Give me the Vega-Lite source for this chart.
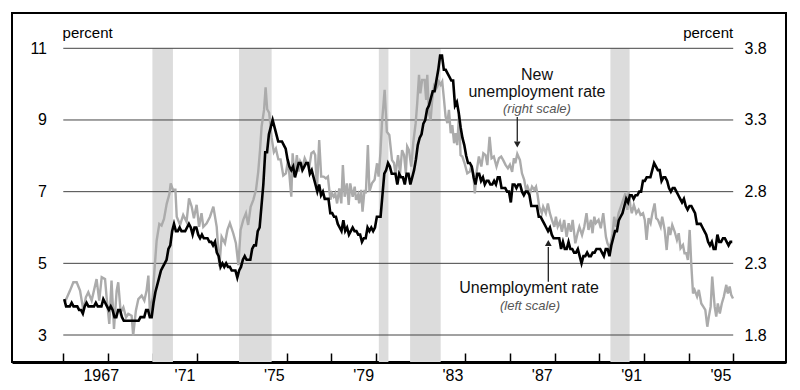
{
"$schema": "https://vega.github.io/schema/vega-lite/v6.json",
"width": 774, "height": 349,
"autosize": {"type": "none"},
"padding": {"left": 12, "top": 13, "right": 14, "bottom": 28},
"background": "white",
"config": {"view": {"stroke": "black", "strokeWidth": 2}, "font": "Liberation Sans"},
"datasets": {
"rec": [{"s":1969.99,"e":1970.91},{"s":1973.87,"e":1975.33},{"s":1980.13,"e":1980.56},{"s":1981.53,"e":1982.90},{"s":1990.5,"e":1991.36}],
"grid": [{"g":3},{"g":5},{"g":7},{"g":9},{"g":11}],
"yearlabels": [{"x":1967.7,"t":"1967"},{"x":1971.45,"t":"'71"},{"x":1975.45,"t":"'75"},{"x":1979.45,"t":"'79"},{"x":1983.45,"t":"'83"},{"x":1987.45,"t":"'87"},{"x":1991.45,"t":"'91"},{"x":1995.45,"t":"'95"}],
"unemp": [
{"d":1966.042,"u":4.0},{"d":1966.125,"u":3.8},{"d":1966.208,"u":3.8},{"d":1966.292,"u":3.8},{"d":1966.375,"u":3.9},{"d":1966.458,"u":3.8},{"d":1966.542,"u":3.8},{"d":1966.625,"u":3.8},{"d":1966.708,"u":3.7},{"d":1966.792,"u":3.7},{"d":1966.875,"u":3.6},{"d":1966.958,"u":3.8},
{"d":1967.042,"u":3.9},{"d":1967.125,"u":3.8},{"d":1967.208,"u":3.8},{"d":1967.292,"u":3.8},{"d":1967.375,"u":3.8},{"d":1967.458,"u":3.9},{"d":1967.542,"u":3.8},{"d":1967.625,"u":3.8},{"d":1967.708,"u":3.8},{"d":1967.792,"u":4.0},{"d":1967.875,"u":3.9},{"d":1967.958,"u":3.8},
{"d":1968.042,"u":3.7},{"d":1968.125,"u":3.8},{"d":1968.208,"u":3.7},{"d":1968.292,"u":3.5},{"d":1968.375,"u":3.5},{"d":1968.458,"u":3.7},{"d":1968.542,"u":3.7},{"d":1968.625,"u":3.5},{"d":1968.708,"u":3.4},{"d":1968.792,"u":3.4},{"d":1968.875,"u":3.4},{"d":1968.958,"u":3.4},
{"d":1969.042,"u":3.4},{"d":1969.125,"u":3.4},{"d":1969.208,"u":3.4},{"d":1969.292,"u":3.4},{"d":1969.375,"u":3.4},{"d":1969.458,"u":3.5},{"d":1969.542,"u":3.5},{"d":1969.625,"u":3.5},{"d":1969.708,"u":3.7},{"d":1969.792,"u":3.7},{"d":1969.875,"u":3.5},{"d":1969.958,"u":3.5},
{"d":1970.042,"u":3.9},{"d":1970.125,"u":4.2},{"d":1970.208,"u":4.4},{"d":1970.292,"u":4.6},{"d":1970.375,"u":4.8},{"d":1970.458,"u":4.9},{"d":1970.542,"u":5.0},{"d":1970.625,"u":5.1},{"d":1970.708,"u":5.4},{"d":1970.792,"u":5.5},{"d":1970.875,"u":5.9},{"d":1970.958,"u":6.1},
{"d":1971.042,"u":5.9},{"d":1971.125,"u":5.9},{"d":1971.208,"u":6.0},{"d":1971.292,"u":5.9},{"d":1971.375,"u":5.9},{"d":1971.458,"u":5.9},{"d":1971.542,"u":6.0},{"d":1971.625,"u":6.1},{"d":1971.708,"u":6.0},{"d":1971.792,"u":5.8},{"d":1971.875,"u":6.0},{"d":1971.958,"u":6.0},
{"d":1972.042,"u":5.8},{"d":1972.125,"u":5.7},{"d":1972.208,"u":5.8},{"d":1972.292,"u":5.7},{"d":1972.375,"u":5.7},{"d":1972.458,"u":5.7},{"d":1972.542,"u":5.6},{"d":1972.625,"u":5.6},{"d":1972.708,"u":5.5},{"d":1972.792,"u":5.6},{"d":1972.875,"u":5.3},{"d":1972.958,"u":5.2},
{"d":1973.042,"u":4.9},{"d":1973.125,"u":5.0},{"d":1973.208,"u":4.9},{"d":1973.292,"u":5.0},{"d":1973.375,"u":4.9},{"d":1973.458,"u":4.9},{"d":1973.542,"u":4.8},{"d":1973.625,"u":4.8},{"d":1973.708,"u":4.8},{"d":1973.792,"u":4.6},{"d":1973.875,"u":4.8},{"d":1973.958,"u":4.9},
{"d":1974.042,"u":5.1},{"d":1974.125,"u":5.2},{"d":1974.208,"u":5.1},{"d":1974.292,"u":5.1},{"d":1974.375,"u":5.1},{"d":1974.458,"u":5.4},{"d":1974.542,"u":5.5},{"d":1974.625,"u":5.5},{"d":1974.708,"u":5.9},{"d":1974.792,"u":6.0},{"d":1974.875,"u":6.6},{"d":1974.958,"u":7.2},
{"d":1975.042,"u":8.1},{"d":1975.125,"u":8.1},{"d":1975.208,"u":8.6},{"d":1975.292,"u":8.8},{"d":1975.375,"u":9.0},{"d":1975.458,"u":8.8},{"d":1975.542,"u":8.6},{"d":1975.625,"u":8.4},{"d":1975.708,"u":8.4},{"d":1975.792,"u":8.4},{"d":1975.875,"u":8.3},{"d":1975.958,"u":8.2},
{"d":1976.042,"u":7.9},{"d":1976.125,"u":7.7},{"d":1976.208,"u":7.6},{"d":1976.292,"u":7.7},{"d":1976.375,"u":7.4},{"d":1976.458,"u":7.6},{"d":1976.542,"u":7.8},{"d":1976.625,"u":7.8},{"d":1976.708,"u":7.6},{"d":1976.792,"u":7.7},{"d":1976.875,"u":7.8},{"d":1976.958,"u":7.8},
{"d":1977.042,"u":7.5},{"d":1977.125,"u":7.6},{"d":1977.208,"u":7.4},{"d":1977.292,"u":7.2},{"d":1977.375,"u":7.0},{"d":1977.458,"u":7.2},{"d":1977.542,"u":6.9},{"d":1977.625,"u":7.0},{"d":1977.708,"u":6.8},{"d":1977.792,"u":6.8},{"d":1977.875,"u":6.8},{"d":1977.958,"u":6.4},
{"d":1978.042,"u":6.4},{"d":1978.125,"u":6.3},{"d":1978.208,"u":6.3},{"d":1978.292,"u":6.1},{"d":1978.375,"u":6.0},{"d":1978.458,"u":5.9},{"d":1978.542,"u":6.2},{"d":1978.625,"u":5.9},{"d":1978.708,"u":6.0},{"d":1978.792,"u":5.8},{"d":1978.875,"u":5.9},{"d":1978.958,"u":6.0},
{"d":1979.042,"u":5.9},{"d":1979.125,"u":5.9},{"d":1979.208,"u":5.8},{"d":1979.292,"u":5.8},{"d":1979.375,"u":5.6},{"d":1979.458,"u":5.7},{"d":1979.542,"u":5.7},{"d":1979.625,"u":6.0},{"d":1979.708,"u":5.9},{"d":1979.792,"u":6.0},{"d":1979.875,"u":5.9},{"d":1979.958,"u":6.0},
{"d":1980.042,"u":6.3},{"d":1980.125,"u":6.3},{"d":1980.208,"u":6.3},{"d":1980.292,"u":6.9},{"d":1980.375,"u":7.5},{"d":1980.458,"u":7.6},{"d":1980.542,"u":7.8},{"d":1980.625,"u":7.7},{"d":1980.708,"u":7.5},{"d":1980.792,"u":7.5},{"d":1980.875,"u":7.5},{"d":1980.958,"u":7.2},
{"d":1981.042,"u":7.5},{"d":1981.125,"u":7.4},{"d":1981.208,"u":7.4},{"d":1981.292,"u":7.2},{"d":1981.375,"u":7.5},{"d":1981.458,"u":7.5},{"d":1981.542,"u":7.2},{"d":1981.625,"u":7.4},{"d":1981.708,"u":7.6},{"d":1981.792,"u":7.9},{"d":1981.875,"u":8.3},{"d":1981.958,"u":8.5},
{"d":1982.042,"u":8.6},{"d":1982.125,"u":8.9},{"d":1982.208,"u":9.0},{"d":1982.292,"u":9.3},{"d":1982.375,"u":9.4},{"d":1982.458,"u":9.6},{"d":1982.542,"u":9.8},{"d":1982.625,"u":9.8},{"d":1982.708,"u":10.1},{"d":1982.792,"u":10.4},{"d":1982.875,"u":10.8},{"d":1982.958,"u":10.8},
{"d":1983.042,"u":10.4},{"d":1983.125,"u":10.4},{"d":1983.208,"u":10.3},{"d":1983.292,"u":10.2},{"d":1983.375,"u":10.1},{"d":1983.458,"u":10.1},{"d":1983.542,"u":9.4},{"d":1983.625,"u":9.5},{"d":1983.708,"u":9.2},{"d":1983.792,"u":8.8},{"d":1983.875,"u":8.5},{"d":1983.958,"u":8.3},
{"d":1984.042,"u":8.0},{"d":1984.125,"u":7.8},{"d":1984.208,"u":7.8},{"d":1984.292,"u":7.7},{"d":1984.375,"u":7.4},{"d":1984.458,"u":7.2},{"d":1984.542,"u":7.5},{"d":1984.625,"u":7.5},{"d":1984.708,"u":7.3},{"d":1984.792,"u":7.4},{"d":1984.875,"u":7.2},{"d":1984.958,"u":7.3},
{"d":1985.042,"u":7.3},{"d":1985.125,"u":7.2},{"d":1985.208,"u":7.2},{"d":1985.292,"u":7.3},{"d":1985.375,"u":7.2},{"d":1985.458,"u":7.4},{"d":1985.542,"u":7.4},{"d":1985.625,"u":7.1},{"d":1985.708,"u":7.1},{"d":1985.792,"u":7.1},{"d":1985.875,"u":7.0},{"d":1985.958,"u":7.0},
{"d":1986.042,"u":6.7},{"d":1986.125,"u":7.2},{"d":1986.208,"u":7.2},{"d":1986.292,"u":7.1},{"d":1986.375,"u":7.2},{"d":1986.458,"u":7.2},{"d":1986.542,"u":7.0},{"d":1986.625,"u":6.9},{"d":1986.708,"u":7.0},{"d":1986.792,"u":7.0},{"d":1986.875,"u":6.9},{"d":1986.958,"u":6.6},
{"d":1987.042,"u":6.6},{"d":1987.125,"u":6.6},{"d":1987.208,"u":6.6},{"d":1987.292,"u":6.3},{"d":1987.375,"u":6.3},{"d":1987.458,"u":6.2},{"d":1987.542,"u":6.1},{"d":1987.625,"u":6.0},{"d":1987.708,"u":5.9},{"d":1987.792,"u":6.0},{"d":1987.875,"u":5.8},{"d":1987.958,"u":5.7},
{"d":1988.042,"u":5.7},{"d":1988.125,"u":5.7},{"d":1988.208,"u":5.7},{"d":1988.292,"u":5.4},{"d":1988.375,"u":5.6},{"d":1988.458,"u":5.4},{"d":1988.542,"u":5.4},{"d":1988.625,"u":5.6},{"d":1988.708,"u":5.4},{"d":1988.792,"u":5.4},{"d":1988.875,"u":5.3},{"d":1988.958,"u":5.3},
{"d":1989.042,"u":5.4},{"d":1989.125,"u":5.2},{"d":1989.208,"u":5.0},{"d":1989.292,"u":5.2},{"d":1989.375,"u":5.2},{"d":1989.458,"u":5.3},{"d":1989.542,"u":5.2},{"d":1989.625,"u":5.2},{"d":1989.708,"u":5.3},{"d":1989.792,"u":5.3},{"d":1989.875,"u":5.4},{"d":1989.958,"u":5.4},
{"d":1990.042,"u":5.4},{"d":1990.125,"u":5.3},{"d":1990.208,"u":5.2},{"d":1990.292,"u":5.4},{"d":1990.375,"u":5.4},{"d":1990.458,"u":5.2},{"d":1990.542,"u":5.5},{"d":1990.625,"u":5.7},{"d":1990.708,"u":5.9},{"d":1990.792,"u":5.9},{"d":1990.875,"u":6.2},{"d":1990.958,"u":6.3},
{"d":1991.042,"u":6.4},{"d":1991.125,"u":6.6},{"d":1991.208,"u":6.8},{"d":1991.292,"u":6.7},{"d":1991.375,"u":6.9},{"d":1991.458,"u":6.9},{"d":1991.542,"u":6.8},{"d":1991.625,"u":6.9},{"d":1991.708,"u":6.9},{"d":1991.792,"u":7.0},{"d":1991.875,"u":7.0},{"d":1991.958,"u":7.3},
{"d":1992.042,"u":7.3},{"d":1992.125,"u":7.4},{"d":1992.208,"u":7.4},{"d":1992.292,"u":7.4},{"d":1992.375,"u":7.6},{"d":1992.458,"u":7.8},{"d":1992.542,"u":7.7},{"d":1992.625,"u":7.6},{"d":1992.708,"u":7.6},{"d":1992.792,"u":7.3},{"d":1992.875,"u":7.4},{"d":1992.958,"u":7.4},
{"d":1993.042,"u":7.3},{"d":1993.125,"u":7.1},{"d":1993.208,"u":7.0},{"d":1993.292,"u":7.1},{"d":1993.375,"u":7.1},{"d":1993.458,"u":7.0},{"d":1993.542,"u":6.9},{"d":1993.625,"u":6.8},{"d":1993.708,"u":6.7},{"d":1993.792,"u":6.8},{"d":1993.875,"u":6.6},{"d":1993.958,"u":6.5},
{"d":1994.042,"u":6.6},{"d":1994.125,"u":6.6},{"d":1994.208,"u":6.5},{"d":1994.292,"u":6.4},{"d":1994.375,"u":6.1},{"d":1994.458,"u":6.1},{"d":1994.542,"u":6.1},{"d":1994.625,"u":6.0},{"d":1994.708,"u":5.9},{"d":1994.792,"u":5.8},{"d":1994.875,"u":5.6},{"d":1994.958,"u":5.5},
{"d":1995.042,"u":5.6},{"d":1995.125,"u":5.4},{"d":1995.208,"u":5.4},{"d":1995.292,"u":5.8},{"d":1995.375,"u":5.6},{"d":1995.458,"u":5.6},{"d":1995.542,"u":5.7},{"d":1995.625,"u":5.7},{"d":1995.708,"u":5.6},{"d":1995.792,"u":5.5},{"d":1995.875,"u":5.6},{"d":1995.958,"u":5.6}
],
"newunemp": [
{"d":1966.07,"v":2.028},{"d":1966.30,"v":2.11},{"d":1966.45,"v":2.168},{"d":1966.60,"v":2.168},{"d":1966.75,"v":2.11},{"d":1966.90,"v":1.97},{"d":1967.01,"v":2.063},{"d":1967.12,"v":2.098},{"d":1967.27,"v":2.04},{"d":1967.49,"v":2.19},{"d":1967.61,"v":2.04},{"d":1967.72,"v":2.203},{"d":1967.87,"v":2.19},{"d":1967.94,"v":2.063},
{"d":1968.06,"v":1.878},{"d":1968.16,"v":2.18},{"d":1968.27,"v":1.843},{"d":1968.39,"v":2.11},{"d":1968.46,"v":2.168},{"d":1968.57,"v":1.958},{"d":1968.69,"v":1.993},{"d":1968.81,"v":1.923},{"d":1968.91,"v":1.948},
{"d":1969.06,"v":1.935},{"d":1969.13,"v":1.795},{"d":1969.25,"v":1.97},{"d":1969.36,"v":2.05},{"d":1969.51,"v":2.075},{"d":1969.63,"v":2.04},{"d":1969.73,"v":2.11},{"d":1969.81,"v":2.215},{"d":1969.88,"v":1.948},
{"d":1970.00,"v":2.063},{"d":1970.07,"v":2.225},{"d":1970.18,"v":2.458},{"d":1970.30,"v":2.575},{"d":1970.40,"v":2.563},{"d":1970.51,"v":2.61},{"d":1970.63,"v":2.715},{"d":1970.75,"v":2.783},{"d":1970.81,"v":2.858},{"d":1970.91,"v":2.813},{"d":1971.02,"v":2.813},
{"d":1971.08,"v":2.625},{"d":1971.23,"v":2.568},{"d":1971.37,"v":2.638},{"d":1971.52,"v":2.59},{"d":1971.63,"v":2.753},{"d":1971.75,"v":2.695},{"d":1971.85,"v":2.615},{"d":1971.97,"v":2.708},
{"d":1972.08,"v":2.555},{"d":1972.19,"v":2.65},{"d":1972.27,"v":2.555},{"d":1972.42,"v":2.58},{"d":1972.57,"v":2.625},{"d":1972.72,"v":2.695},{"d":1972.87,"v":2.555},{"d":1972.99,"v":2.278},
{"d":1973.09,"v":2.485},{"d":1973.24,"v":2.44},{"d":1973.35,"v":2.533},{"d":1973.46,"v":2.58},{"d":1973.61,"v":2.51},{"d":1973.73,"v":2.44},{"d":1973.84,"v":2.288},{"d":1973.94,"v":2.533},
{"d":1974.06,"v":2.603},{"d":1974.18,"v":2.65},{"d":1974.28,"v":2.568},{"d":1974.39,"v":2.695},{"d":1974.51,"v":2.743},{"d":1974.63,"v":2.813},{"d":1974.73,"v":2.94},{"d":1974.81,"v":3.09},{"d":1974.88,"v":3.253},{"d":1974.99,"v":3.37},
{"d":1975.06,"v":3.528},{"d":1975.13,"v":3.375},{"d":1975.22,"v":3.35},{"d":1975.33,"v":3.175},{"d":1975.43,"v":3.075},{"d":1975.52,"v":3.1},{"d":1975.63,"v":3.025},{"d":1975.73,"v":3.025},{"d":1975.85,"v":2.913},{"d":1975.97,"v":2.928},
{"d":1976.06,"v":3.02},{"d":1976.12,"v":2.928},{"d":1976.21,"v":2.765},{"d":1976.27,"v":3.068},{"d":1976.36,"v":2.905},{"d":1976.46,"v":3.055},{"d":1976.54,"v":2.94},{"d":1976.61,"v":3.01},{"d":1976.72,"v":2.975},{"d":1976.81,"v":3.033},{"d":1976.91,"v":2.998},
{"d":1977.02,"v":2.975},{"d":1977.11,"v":3.068},{"d":1977.21,"v":3.08},{"d":1977.28,"v":3.055},{"d":1977.36,"v":2.813},{"d":1977.46,"v":3.16},{"d":1977.55,"v":2.905},{"d":1977.66,"v":2.905},{"d":1977.76,"v":2.893},{"d":1977.85,"v":2.905},{"d":1977.96,"v":2.743},
{"d":1978.03,"v":2.788},{"d":1978.11,"v":2.765},{"d":1978.18,"v":2.788},{"d":1978.26,"v":2.718},{"d":1978.36,"v":2.823},{"d":1978.45,"v":2.718},{"d":1978.52,"v":2.985},{"d":1978.60,"v":2.765},{"d":1978.70,"v":2.858},{"d":1978.78,"v":2.708},{"d":1978.85,"v":2.858},{"d":1978.96,"v":2.765},
{"d":1979.05,"v":2.835},{"d":1979.11,"v":2.743},{"d":1979.20,"v":2.778},{"d":1979.25,"v":2.718},{"d":1979.34,"v":2.813},{"d":1979.40,"v":2.66},{"d":1979.49,"v":2.813},{"d":1979.55,"v":2.788},{"d":1979.64,"v":3.125},{"d":1979.71,"v":2.8},{"d":1979.82,"v":2.858},{"d":1979.94,"v":2.883},
{"d":1980.05,"v":2.998},{"d":1980.12,"v":2.905},{"d":1980.20,"v":3.068},{"d":1980.27,"v":3.278},{"d":1980.39,"v":3.51},{"d":1980.49,"v":3.218},{"d":1980.60,"v":3.195},{"d":1980.72,"v":3.02},{"d":1980.81,"v":3.0},{"d":1980.88,"v":2.918},{"d":1980.99,"v":3.055},
{"d":1981.08,"v":2.928},{"d":1981.17,"v":3.09},{"d":1981.26,"v":3.055},{"d":1981.34,"v":2.928},{"d":1981.40,"v":3.115},{"d":1981.48,"v":3.09},{"d":1981.58,"v":2.975},{"d":1981.67,"v":3.138},{"d":1981.78,"v":3.278},{"d":1981.85,"v":3.418},{"d":1981.93,"v":3.615},{"d":1981.99,"v":3.485},
{"d":1982.07,"v":3.58},{"d":1982.18,"v":3.58},{"d":1982.25,"v":3.44},{"d":1982.30,"v":3.615},{"d":1982.37,"v":3.348},{"d":1982.45,"v":3.3},{"d":1982.52,"v":3.44},{"d":1982.60,"v":3.533},{"d":1982.67,"v":3.51},{"d":1982.75,"v":3.533},{"d":1982.82,"v":3.568},{"d":1982.90,"v":3.545},{"d":1982.97,"v":3.568},
{"d":1983.05,"v":3.44},{"d":1983.12,"v":3.323},{"d":1983.20,"v":3.278},{"d":1983.27,"v":3.37},{"d":1983.35,"v":3.208},{"d":1983.42,"v":3.265},{"d":1983.50,"v":3.138},{"d":1983.57,"v":3.208},{"d":1983.64,"v":3.125},{"d":1983.72,"v":3.335},{"d":1983.79,"v":3.055},{"d":1983.87,"v":3.045},{"d":1983.97,"v":2.998},
{"d":1984.09,"v":2.928},{"d":1984.21,"v":2.94},{"d":1984.27,"v":2.985},{"d":1984.36,"v":2.928},{"d":1984.43,"v":2.788},{"d":1984.51,"v":2.94},{"d":1984.61,"v":3.045},{"d":1984.72,"v":2.975},{"d":1984.81,"v":3.068},{"d":1984.91,"v":3.055},{"d":1984.99,"v":2.985},
{"d":1985.09,"v":3.183},{"d":1985.18,"v":3.033},{"d":1985.28,"v":3.045},{"d":1985.40,"v":2.975},{"d":1985.51,"v":3.033},{"d":1985.61,"v":3.045},{"d":1985.70,"v":3.02},{"d":1985.81,"v":2.985},{"d":1985.91,"v":2.963},
{"d":1986.00,"v":2.988},{"d":1986.10,"v":2.938},{"d":1986.18,"v":3.033},{"d":1986.24,"v":2.998},{"d":1986.33,"v":3.063},{"d":1986.45,"v":3.02},{"d":1986.54,"v":2.928},{"d":1986.64,"v":2.883},{"d":1986.72,"v":2.813},{"d":1986.79,"v":2.835},{"d":1986.90,"v":2.788},{"d":1986.99,"v":2.835},
{"d":1987.09,"v":2.813},{"d":1987.17,"v":2.835},{"d":1987.24,"v":2.778},{"d":1987.31,"v":2.695},{"d":1987.43,"v":2.65},{"d":1987.49,"v":2.695},{"d":1987.61,"v":2.65},{"d":1987.70,"v":2.718},{"d":1987.79,"v":2.65},{"d":1987.88,"v":2.603},{"d":1987.99,"v":2.555},
{"d":1988.06,"v":2.625},{"d":1988.14,"v":2.555},{"d":1988.24,"v":2.59},{"d":1988.33,"v":2.52},{"d":1988.43,"v":2.603},{"d":1988.54,"v":2.485},{"d":1988.63,"v":2.58},{"d":1988.73,"v":2.52},{"d":1988.81,"v":2.603},{"d":1988.93,"v":2.44},
{"d":1989.03,"v":2.51},{"d":1989.11,"v":2.555},{"d":1989.23,"v":2.498},{"d":1989.33,"v":2.555},{"d":1989.43,"v":2.65},{"d":1989.52,"v":2.533},{"d":1989.63,"v":2.603},{"d":1989.70,"v":2.51},{"d":1989.78,"v":2.625},{"d":1989.85,"v":2.58},{"d":1989.97,"v":2.603},
{"d":1990.07,"v":2.545},{"d":1990.18,"v":2.65},{"d":1990.30,"v":2.485},{"d":1990.37,"v":2.44},{"d":1990.48,"v":2.405},{"d":1990.60,"v":2.51},{"d":1990.67,"v":2.625},{"d":1990.75,"v":2.555},{"d":1990.87,"v":2.65},{"d":1990.97,"v":2.695},
{"d":1991.07,"v":2.743},{"d":1991.17,"v":2.788},{"d":1991.26,"v":2.673},{"d":1991.32,"v":2.8},{"d":1991.40,"v":2.695},{"d":1991.46,"v":2.65},{"d":1991.55,"v":2.708},{"d":1991.66,"v":2.65},{"d":1991.76,"v":2.673},{"d":1991.85,"v":2.638},{"d":1991.96,"v":2.65},
{"d":1992.04,"v":2.603},{"d":1992.12,"v":2.463},{"d":1992.21,"v":2.615},{"d":1992.30,"v":2.58},{"d":1992.38,"v":2.65},{"d":1992.48,"v":2.718},{"d":1992.55,"v":2.615},{"d":1992.63,"v":2.603},{"d":1992.75,"v":2.555},{"d":1992.82,"v":2.625},{"d":1992.93,"v":2.533},
{"d":1993.02,"v":2.393},{"d":1993.11,"v":2.555},{"d":1993.18,"v":2.498},{"d":1993.27,"v":2.568},{"d":1993.38,"v":2.52},{"d":1993.48,"v":2.463},{"d":1993.56,"v":2.51},{"d":1993.64,"v":2.405},{"d":1993.75,"v":2.428},{"d":1993.82,"v":2.37},{"d":1993.90,"v":2.37},{"d":1993.97,"v":2.323},
{"d":1994.05,"v":2.533},{"d":1994.12,"v":2.3},{"d":1994.20,"v":2.09},{"d":1994.27,"v":2.115},{"d":1994.38,"v":2.068},{"d":1994.46,"v":2.115},{"d":1994.57,"v":2.02},{"d":1994.66,"v":1.998},{"d":1994.75,"v":1.975},{"d":1994.84,"v":1.858},{"d":1994.91,"v":1.928},{"d":1994.99,"v":1.998},
{"d":1995.06,"v":2.208},{"d":1995.17,"v":1.998},{"d":1995.24,"v":1.928},{"d":1995.31,"v":2.02},{"d":1995.40,"v":1.95},{"d":1995.49,"v":2.02},{"d":1995.58,"v":2.068},{"d":1995.69,"v":2.15},{"d":1995.76,"v":2.09},{"d":1995.84,"v":2.138},{"d":1995.91,"v":2.08},{"d":1995.99,"v":2.055}
],
"notes": [{"x":1987.21,"y":10.116,"t":"New"},{"x":1987.21,"y":9.641,"t":"unemployment rate"},{"x":1986.86,"y":4.172,"t":"Unemployment rate"}],
"subnotes": [{"x":1987.21,"y":9.195,"t":"(right scale)"},{"x":1986.9,"y":3.698,"t":"(left scale)"}],
"arrows": [{"x":1986.33,"y1":9.083,"y2":8.4},{"x":1987.72,"y1":4.488,"y2":5.456}],
"heads": [{"x":1986.33,"y":8.316,"s":"triangle-down"},{"x":1987.72,"y":5.567,"s":"triangle-up"}],
"pctl": [{"x": 1965.97, "y": 11.279, "t": "percent"}],
"pctr": [{"x": 1996.0, "y": 11.279, "t": "percent"}]
},
"layer": [
 {"layer": [
  {"data": {"name": "rec"}, "mark": {"type": "rect", "color": "#dcdcdc"},
   "encoding": {
    "x": {"field": "s", "type": "quantitative", "scale": {"domain": [1963.703, 1998.364], "nice": false, "zero": false}},
    "x2": {"field": "e"},
    "y": {"datum": 11, "type": "quantitative", "axis": null, "scale": {"domain": [2.247, 11.985], "nice": false, "zero": false}},
    "y2": {"datum": 2.247}}},
  {"data": {"name": "grid"}, "mark": {"type": "rule", "color": "#444444", "strokeWidth": 1},
   "encoding": {
    "x": {"datum": 1966, "type": "quantitative"},
    "x2": {"datum": 1996},
    "y": {"field": "g", "type": "quantitative", "axis": null}}}
 ]},
 {"data": {"name": "newunemp"}, "mark": {"type": "line", "color": "#ababab", "strokeWidth": 2.4},
  "encoding": {
   "x": {"field": "d", "type": "quantitative"},
   "y": {"field": "v", "type": "quantitative",
     "scale": {"domain": [1.6118, 4.0463], "nice": false, "zero": false},
     "axis": {"orient": "right", "values": [1.8, 2.3, 2.8, 3.3, 3.8], "format": ".1f", "offset": -42, "ticks": false, "domain": false, "grid": false, "labelPadding": 0, "labelFontSize": 16, "labelColor": "black", "labelFont": "Liberation Sans", "title": null}}}},
 {"layer": [
  {"data": {"name": "unemp"}, "mark": {"type": "line", "color": "black", "strokeWidth": 2.6},
   "encoding": {
    "x": {"field": "d", "type": "quantitative",
      "scale": {"domain": [1963.703, 1998.364], "nice": false, "zero": false},
      "axis": {"orient": "bottom", "values": [1966,1967,1968,1969,1970,1971,1972,1973,1974,1975,1976,1977,1978,1979,1980,1981,1982,1983,1984,1985,1986,1987,1988,1989,1990,1991,1992,1993,1994,1995,1996],
        "labels": false, "tickSize": -9, "tickColor": "black", "tickWidth": 1.5, "domainColor": "black", "domainWidth": 3, "grid": false, "title": null}},
    "y": {"field": "u", "type": "quantitative",
      "scale": {"domain": [2.247, 11.985], "nice": false, "zero": false},
      "axis": {"orient": "left", "values": [3, 5, 7, 9, 11], "offset": -34.5, "ticks": false, "domain": false, "grid": false, "labelPadding": 0, "labelFontSize": 16, "labelColor": "black", "labelFont": "Liberation Sans", "title": null}}}},
  {"data": {"name": "arrows"}, "mark": {"type": "rule", "color": "#222222", "strokeWidth": 1.3},
   "encoding": {
    "x": {"field": "x", "type": "quantitative"},
    "y": {"field": "y1", "type": "quantitative"},
    "y2": {"field": "y2"}}},
  {"data": {"name": "heads"}, "mark": {"type": "point", "filled": true, "color": "#222222", "size": 45, "opacity": 1},
   "encoding": {
    "x": {"field": "x", "type": "quantitative"},
    "y": {"field": "y", "type": "quantitative"},
    "shape": {"field": "s", "type": "nominal", "scale": null, "legend": null}}},
  {"data": {"name": "notes"}, "mark": {"type": "text", "fontSize": 16, "color": "#111111", "align": "center", "baseline": "alphabetic", "font": "Liberation Sans"},
   "encoding": {
    "x": {"field": "x", "type": "quantitative"},
    "y": {"field": "y", "type": "quantitative"},
    "text": {"field": "t"}}},
  {"data": {"name": "subnotes"}, "mark": {"type": "text", "fontSize": 13, "fontStyle": "italic", "color": "#555555", "align": "center", "baseline": "alphabetic", "font": "Liberation Sans"},
   "encoding": {
    "x": {"field": "x", "type": "quantitative"},
    "y": {"field": "y", "type": "quantitative"},
    "text": {"field": "t"}}},
  {"data": {"name": "yearlabels"}, "mark": {"type": "text", "fontSize": 16, "color": "black", "align": "center", "baseline": "middle", "font": "Liberation Sans"},
   "encoding": {
    "x": {"field": "x", "type": "quantitative"},
    "y": {"datum": 1.857, "type": "quantitative"},
    "text": {"field": "t"}}},
  {"data": {"name": "pctl"}, "mark": {"type": "text", "fontSize": 15, "color": "black", "align": "left", "baseline": "alphabetic", "font": "Liberation Sans"},
   "encoding": {
    "x": {"field": "x", "type": "quantitative"},
    "y": {"field": "y", "type": "quantitative"},
    "text": {"field": "t"}}},
  {"data": {"name": "pctr"}, "mark": {"type": "text", "fontSize": 15, "color": "black", "align": "right", "baseline": "alphabetic", "font": "Liberation Sans"},
   "encoding": {
    "x": {"field": "x", "type": "quantitative"},
    "y": {"field": "y", "type": "quantitative"},
    "text": {"field": "t"}}}
 ]}
],
"resolve": {"scale": {"y": "independent"}}
}
